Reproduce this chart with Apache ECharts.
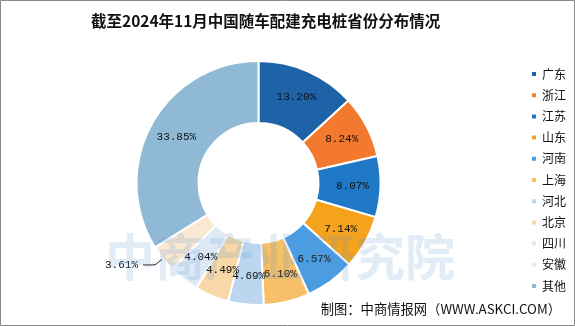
<!DOCTYPE html>
<html><head><meta charset="utf-8">
<script src="https://cdn.jsdelivr.net/npm/echarts@6/dist/echarts.min.js"></script>
<style>html,body{margin:0;padding:0;background:#fff}#c{width:575px;height:326px}</style>
</head><body><div id="c"></div>
<script>
const titleText = '截至2024年11月中国随车配建充电桩省份分布情况';
const sourceText = '制图：中商情报网（WWW.ASKCI.COM）';
const categories = ['广东','浙江','江苏','山东','河南','上海','河北','北京','四川','安徽','其他'];
const values = [13.20, 8.24, 8.07, 7.14, 6.57, 6.10, 4.69, 4.49, 4.04, 3.61, 33.85];
const colors = ['#1e62a8','#f2792e','#2079c6','#f5a21c','#4b9de2','#f7c068','#bcd6ef','#f8d8a6','#dde9f5','#fbe8d3','#8fb9d5'];
const outsideLabels = ['安徽'];

const data = categories.map((name, i) => {
  const d = { name, value: values[i], itemStyle: { color: colors[i] } };
  if (outsideLabels.includes(name)) {
    d.label = { position: 'outside' };
    d.labelLine = { show: true, length: 10, length2: 12, lineStyle: { color: '#222', width: 1 } };
  }
  return d;
});

const chart = echarts.init(document.getElementById('c'));
chart.setOption({
  animation: false,
  title: { text: titleText, left: 86, top: 8,
    textStyle: { fontFamily: 'Noto Sans CJK SC', fontWeight: 'bold', fontSize: 15.5, color: '#111' } },
  legend: {
    orient: 'vertical', left: 525, top: 62, itemWidth: 6, itemHeight: 6, itemGap: 7.2,
    icon: 'rect', data: categories,
    textStyle: { fontFamily: 'Noto Sans CJK SC', fontSize: 12, color: '#111', lineHeight: 14 }
  },
  graphic: [
    { type: 'text', left: 105, top: 232, z: 100, silent: true,
      style: { text: '中商产业研究院', fontSize: 50, fontWeight: 'bold', fontFamily: 'Noto Sans CJK SC',
        fill: 'rgba(90,150,205,0.18)' } },
    { type: 'text', right: 14, top: 302,
      style: { text: sourceText, fontSize: 13.3, fontFamily: 'Noto Sans CJK SC', fill: '#111' } },
    { type: 'rect', shape: { x: 0.5, y: 0.5, width: 574, height: 325 },
      style: { fill: 'none', stroke: '#8a8a8a', lineWidth: 1 } }
  ],
  series: [{
    type: 'pie', center: [258.5, 183], radius: [60, 122], startAngle: 90, clockwise: true,
    avoidLabelOverlap: false,
    labelLayout: { hideOverlap: false },
    itemStyle: { borderColor: '#fff', borderWidth: 2 },
    label: { show: true, position: 'inner', formatter: p => p.value.toFixed(2) + '%',
      fontFamily: 'Liberation Mono', fontSize: 11, color: '#111' },
    labelLine: { show: false },
    data
  }]
});
</script></body></html>
